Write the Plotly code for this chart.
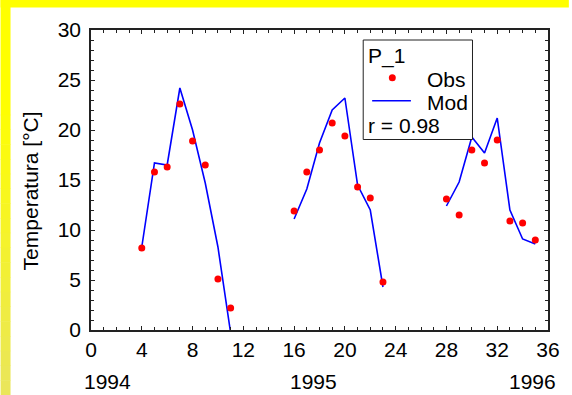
import plotly.graph_objects as go

# ---- data ----
months = [4, 5, 6, 7, 8, 9, 10, 11, None,
          16, 17, 18, 19, 20, 21, 22, 23, None,
          28, 29, 30, 31, 32, 33, 34, 35]
obs = [8.2, 15.8, 16.3, 22.6, 18.9, 16.5, 5.1, 2.2, None,
       11.9, 15.8, 18.0, 20.7, 19.4, 14.3, 13.2, 4.8, None,
       13.1, 11.5, 18.0, 16.7, 19.0, 10.9, 10.7, 9.0]
mod = [8.3, 16.7, 16.5, 24.2, 20.0, 14.7, 8.3, -0.3, None,
       11.1, 14.1, 18.7, 22.0, 23.2, 14.5, 12.0, 4.3, None,
       12.4, 14.8, 19.3, 17.7, 21.2, 12.0, 9.1, 8.6]
x_ticks = [0, 4, 8, 12, 16, 20, 24, 28, 32, 36]
y_ticks = [0, 5, 10, 15, 20, 25, 30]
years = ["1994", "1995", "1996"]
year_pos = [1.33, 17.53, 34.75]
legend_title = "P_1"
r_text = "r = 0.98"

FONT = "Liberation Sans, Arial, sans-serif"
W, H = 572, 395
L, R, T, B = 91, 21, 30, 65
PW, PH = W - L - R, H - T - B


def px(x):
    return (x - L) / PW


def py(y):
    return (H - B - y) / PH


fig = go.Figure()
fig.add_trace(go.Scatter(x=months, y=mod, mode="lines",
                         line=dict(color="#0000ff", width=1.6),
                         connectgaps=False, name="Mod", showlegend=False))
fig.add_trace(go.Scatter(x=months, y=obs, mode="markers",
                         marker=dict(color="#ff0000", size=7),
                         name="Obs", showlegend=False))

shapes = []
# yellow frame (top strip + left strip with slight gradient)
shapes.append(dict(type="rect", xref="paper", yref="paper", layer="below",
                   x0=px(0), x1=px(W), y0=py(0), y1=py(7.5),
                   fillcolor="#ffff00", line=dict(width=0)))
n = 20
y_start = 100
c0 = (255, 255, 0)
c1 = (233, 229, 92)
shapes.append(dict(type="rect", xref="paper", yref="paper", layer="below",
                   x0=px(0), x1=px(10), y0=py(0), y1=py(y_start),
                   fillcolor="#ffff00", line=dict(width=0)))
for i in range(n):
    ya = y_start + (H - y_start) * i / n
    yb = y_start + (H - y_start) * (i + 1) / n
    t = (i + 0.5) / n
    col = "rgb(%d,%d,%d)" % tuple(round(c0[k] + (c1[k] - c0[k]) * t) for k in range(3))
    shapes.append(dict(type="rect", xref="paper", yref="paper", layer="below",
                       x0=px(0), x1=px(10), y0=py(ya), y1=py(yb + 0.5),
                       fillcolor=col, line=dict(width=0)))

# legend box
shapes.append(dict(type="rect", xref="paper", yref="paper", layer="above",
                   x0=px(365), x1=px(475), y0=py(139.5), y1=py(40),
                   fillcolor="white", line=dict(color="#222222", width=1)))
shapes.append(dict(type="circle", xref="paper", yref="paper", layer="above",
                   x0=px(394.3 - 3.5), x1=px(394.3 + 3.5),
                   y0=py(77.7 + 3.5), y1=py(77.7 - 3.5),
                   fillcolor="#ff0000", line=dict(width=0)))
shapes.append(dict(type="line", xref="paper", yref="paper", layer="above",
                   x0=px(374), x1=px(413), y0=py(100.7), y1=py(100.7),
                   line=dict(color="#0000ff", width=1.6)))

annotations = [
    dict(text=legend_title, xref="paper", yref="paper", x=px(368), y=py(56),
         xanchor="left", yanchor="middle", showarrow=False),
    dict(text="Obs", xref="paper", yref="paper", x=px(470), y=py(79),
         xanchor="right", yanchor="middle", showarrow=False),
    dict(text="Mod", xref="paper", yref="paper", x=px(472), y=py(102),
         xanchor="right", yanchor="middle", showarrow=False),
    dict(text=r_text, xref="paper", yref="paper", x=px(368), y=py(126),
         xanchor="left", yanchor="middle", showarrow=False),
    dict(text="Temperatura [°C]", xref="paper", yref="paper", x=px(30), y=py(191),
         xanchor="center", yanchor="middle", textangle=-90, showarrow=False),
]
for yr, xp in zip(years, year_pos):
    annotations.append(dict(text=yr, xref="x", yref="paper", x=xp, y=py(381),
                            xanchor="center", yanchor="middle", showarrow=False))

axis_common = dict(showgrid=False, zeroline=False, showline=True,
                   linecolor="#222222", linewidth=1.5, mirror="ticks",
                   ticks="inside", ticklen=4, tickwidth=1, tickcolor="#222222",
                   tickfont=dict(family=FONT, size=21, color="black"))

fig.update_layout(
    width=W, height=H,
    margin=dict(l=L, r=R, t=T, b=B),
    paper_bgcolor="white", plot_bgcolor="white",
    font=dict(family=FONT, size=21, color="black"),
    shapes=shapes, annotations=annotations,
    xaxis=dict(range=[0, 36], tickvals=x_ticks, ticklabelstandoff=0,
               minor=dict(dtick=1, ticks="inside", ticklen=3, tickcolor="#222222"),
               **axis_common),
    yaxis=dict(range=[0, 30], tickvals=y_ticks, ticklabelstandoff=4,
               minor=dict(dtick=1, ticks="inside", ticklen=3, tickcolor="#222222"),
               **axis_common),
)

fig.write_html("out.html")
